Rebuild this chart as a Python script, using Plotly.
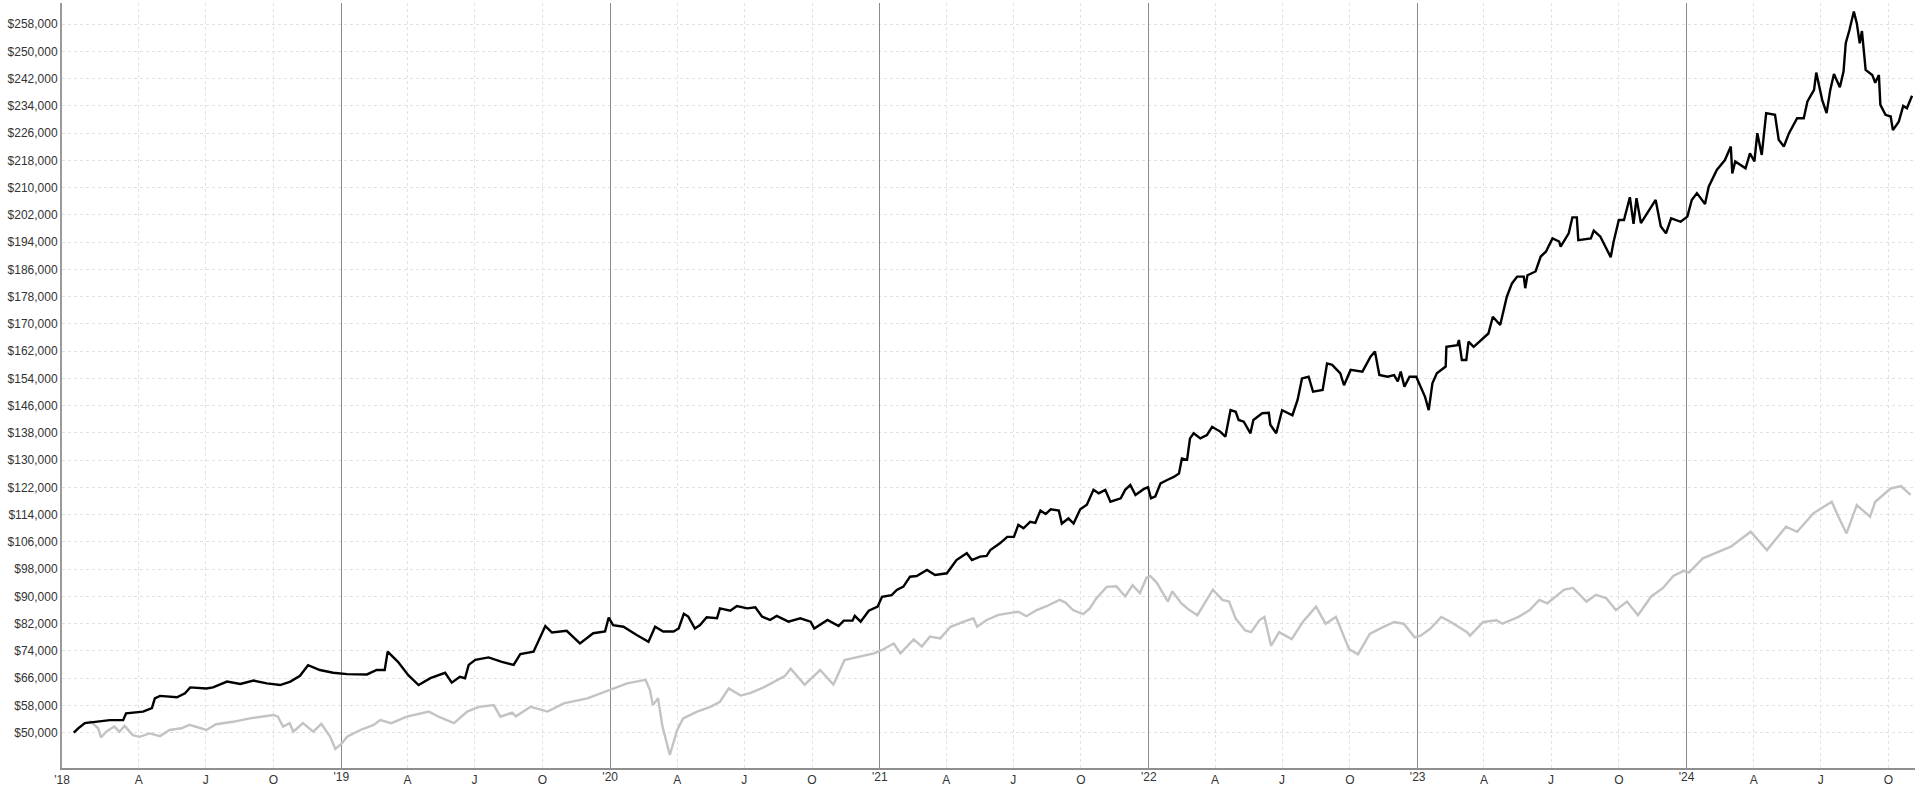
import plotly.graph_objects as go

# ---------------- data (values in thousands of dollars) ----------------
portfolio_dates = [
    "2018-01-03","2018-01-09","2018-01-18","2018-02-01","2018-02-21","2018-03-11","2018-03-15","2018-04-07",
    "2018-04-19","2018-04-23","2018-04-30","2018-05-23","2018-06-03","2018-06-10","2018-07-02","2018-07-11",
    "2018-07-30","2018-08-17","2018-09-04","2018-09-22","2018-10-10","2018-10-24","2018-11-06","2018-11-17",
    "2018-12-03","2018-12-21","2019-01-09","2019-02-05","2019-02-18","2019-03-01","2019-03-05","2019-03-19",
    "2019-04-02","2019-04-16","2019-05-02","2019-05-22","2019-05-31","2019-06-11","2019-06-18","2019-06-23",
    "2019-07-02","2019-07-20","2019-08-07","2019-08-23","2019-09-01","2019-09-19","2019-09-27","2019-10-05",
    "2019-10-14","2019-11-03","2019-11-21","2019-12-09","2019-12-25","2019-12-30","2020-01-05","2020-01-19",
    "2020-02-06","2020-02-22","2020-03-02","2020-03-13","2020-03-27","2020-04-03","2020-04-10","2020-04-16",
    "2020-04-25","2020-05-02","2020-05-11","2020-05-25","2020-05-29","2020-06-12","2020-06-21","2020-07-05",
    "2020-07-16","2020-07-25","2020-08-05","2020-08-14","2020-08-30","2020-09-15","2020-09-29","2020-10-04",
    "2020-10-22","2020-11-06","2020-11-13","2020-11-25","2020-11-28","2020-12-06","2020-12-17","2020-12-29",
    "2021-01-04","2021-01-17","2021-01-24","2021-02-02","2021-02-11","2021-02-20","2021-03-06","2021-03-17",
    "2021-04-02","2021-04-15","2021-04-29","2021-05-06","2021-05-17","2021-05-26","2021-05-31","2021-06-13",
    "2021-06-23","2021-07-02","2021-07-08","2021-07-15","2021-07-24","2021-07-31","2021-08-07","2021-08-14",
    "2021-08-21","2021-09-01","2021-09-05","2021-09-14","2021-09-21","2021-09-30","2021-10-09","2021-10-18",
    "2021-10-25","2021-11-03","2021-11-10","2021-11-24","2021-11-30","2021-12-07","2021-12-14","2021-12-25",
    "2021-12-31","2022-01-04","2022-01-10","2022-01-17","2022-01-26","2022-02-04","2022-02-11","2022-02-15",
    "2022-02-22","2022-02-26","2022-03-03","2022-03-12","2022-03-21","2022-03-28","2022-04-08","2022-04-15",
    "2022-04-22","2022-04-29","2022-05-03","2022-05-10","2022-05-19","2022-05-23","2022-06-04","2022-06-13",
    "2022-06-15","2022-06-23","2022-07-01","2022-07-15","2022-07-22","2022-07-28","2022-08-06","2022-08-12",
    "2022-08-25","2022-08-31","2022-09-07","2022-09-18","2022-09-23","2022-10-02","2022-10-18","2022-10-29",
    "2022-11-04","2022-11-10","2022-11-21","2022-11-30","2022-12-05","2022-12-09","2022-12-14","2022-12-21",
    "2022-12-30","2023-01-05","2023-01-11","2023-01-16","2023-01-21","2023-01-27","2023-02-08","2023-02-09",
    "2023-02-24","2023-02-26","2023-03-02","2023-03-08","2023-03-11","2023-03-18","2023-03-29","2023-04-07",
    "2023-04-13","2023-04-23","2023-05-02","2023-05-09","2023-05-16","2023-05-25","2023-05-27","2023-05-30",
    "2023-06-10","2023-06-17","2023-06-24","2023-07-03","2023-07-12","2023-07-14","2023-07-25","2023-07-30",
    "2023-08-05","2023-08-07","2023-08-24","2023-08-28","2023-09-06","2023-09-13","2023-09-20","2023-09-24",
    "2023-10-01","2023-10-08","2023-10-16","2023-10-21","2023-10-25","2023-10-31","2023-11-09","2023-11-20",
    "2023-11-27","2023-12-04","2023-12-11","2023-12-24","2024-01-02","2024-01-08","2024-01-15","2024-01-26",
    "2024-01-31","2024-02-11","2024-02-22","2024-03-01","2024-03-03","2024-03-07","2024-03-21","2024-03-27",
    "2024-04-02","2024-04-06","2024-04-12","2024-04-18","2024-04-30","2024-05-05","2024-05-12","2024-05-19",
    "2024-05-30","2024-06-08","2024-06-13","2024-06-22","2024-06-25","2024-07-03","2024-07-09","2024-07-14",
    "2024-07-19","2024-07-27","2024-08-01","2024-08-04","2024-08-09","2024-08-15","2024-08-19","2024-08-23",
    "2024-08-26","2024-08-31","2024-09-09","2024-09-13","2024-09-18","2024-09-20","2024-09-27","2024-10-04",
    "2024-10-07","2024-10-15","2024-10-21","2024-10-26","2024-11-02",
]
portfolio_k = [
    50.0, 51.3, 52.8, 53.2, 53.7, 53.7, 55.7, 56.2,
    57.2, 60.1, 60.8, 60.4, 61.6, 63.3, 63.0, 63.3,
    65.0, 64.3, 65.3, 64.5, 64.0, 65.0, 66.7, 69.8,
    68.4, 67.6, 67.2, 67.1, 68.4, 68.4, 73.8, 70.8,
    66.9, 64.0, 66.0, 67.6, 64.7, 66.4, 66.0, 69.9,
    71.4, 72.1, 70.8, 69.9, 73.1, 73.8, 77.7, 81.3,
    79.4, 79.9, 76.2, 79.2, 79.7, 83.8, 81.6, 81.1,
    78.7, 76.7, 81.1, 79.7, 79.7, 80.6, 84.9, 84.1,
    80.6, 81.6, 83.9, 83.6, 86.5, 85.8, 87.2, 86.5,
    86.8, 84.1, 83.1, 84.3, 82.6, 83.6, 82.6, 80.6,
    83.1, 81.3, 82.9, 82.9, 84.3, 82.6, 85.8, 87.0,
    89.9, 90.4, 91.9, 92.9, 95.8, 96.0, 97.8, 96.3,
    96.8, 100.7, 102.7, 100.7, 101.7, 101.9, 103.6, 105.6,
    107.5, 107.5, 111.0, 110.0, 111.9, 111.6, 115.2, 114.2,
    115.6, 115.2, 111.4, 112.9, 111.4, 115.6, 116.9, 121.3,
    120.3, 121.3, 117.8, 118.8, 121.3, 122.7, 119.8, 121.5,
    122.1, 118.8, 119.4, 123.2, 124.2, 125.1, 126.1, 130.5,
    130.1, 136.4, 137.9, 136.4, 137.4, 139.8, 138.4, 136.9,
    144.7, 144.2, 141.8, 141.3, 137.9, 141.8, 143.8, 143.9,
    140.4, 137.9, 144.7, 143.2, 147.7, 154.0, 154.5, 150.1,
    150.6, 158.4, 158.0, 155.5, 152.0, 156.5, 156.0, 160.4,
    161.9, 155.0, 154.5, 155.0, 153.1, 156.0, 151.6, 154.5,
    154.5, 151.6, 148.6, 144.7, 152.6, 155.5, 157.5, 163.3,
    163.8, 165.3, 159.4, 159.4, 164.8, 163.3, 165.3, 167.2,
    172.1, 169.7, 178.0, 181.9, 183.9, 183.9, 180.5, 184.3,
    185.4, 189.8, 191.2, 195.1, 194.2, 192.7, 196.6, 201.3,
    201.3, 194.6, 195.1, 197.4, 195.6, 192.7, 189.6, 194.2,
    200.5, 200.5, 207.2, 199.4, 206.9, 199.6, 202.5, 206.4,
    198.6, 196.6, 201.0, 200.0, 201.5, 206.4, 208.4, 205.2,
    210.3, 215.2, 218.1, 222.1, 214.2, 217.7, 215.7, 220.1,
    217.7, 226.0, 219.6, 231.9, 231.4, 224.1, 222.1, 226.0,
    230.4, 230.4, 235.3, 238.7, 243.8, 235.8, 231.9, 238.7,
    243.4, 239.5, 244.1, 252.4, 256.3, 261.7, 258.3, 252.4,
    256.0, 244.6, 243.1, 240.8, 243.1, 234.3, 231.4, 230.9,
    226.9, 229.4, 234.0, 233.3, 237.0,
]

benchmark_dates = [
    "2018-01-03","2018-01-09","2018-01-18","2018-01-26","2018-02-05","2018-02-09","2018-02-16","2018-02-27",
    "2018-03-06","2018-03-13","2018-03-24","2018-04-02","2018-04-16","2018-04-30","2018-05-13","2018-05-29",
    "2018-06-09","2018-06-23","2018-07-02","2018-07-15","2018-08-07","2018-08-30","2018-09-17","2018-10-01",
    "2018-10-07","2018-10-14","2018-10-23","2018-10-28","2018-11-10","2018-11-24","2018-12-05","2018-12-17",
    "2018-12-24","2019-01-02","2019-01-09","2019-01-27","2019-02-14","2019-02-23","2019-03-10","2019-03-31",
    "2019-04-30","2019-05-13","2019-06-03","2019-06-21","2019-07-07","2019-07-27","2019-08-05","2019-08-21",
    "2019-08-26","2019-09-15","2019-10-08","2019-10-30","2019-12-01","2020-01-01","2020-01-24","2020-02-18",
    "2020-02-24","2020-02-28","2020-03-06","2020-03-12","2020-03-22","2020-04-01","2020-04-09","2020-04-28",
    "2020-05-16","2020-05-29","2020-06-10","2020-06-26","2020-07-09","2020-07-28","2020-08-25","2020-09-02",
    "2020-09-21","2020-10-12","2020-10-30","2020-11-14","2020-12-06","2020-12-24","2021-01-04","2021-01-11",
    "2021-01-20","2021-01-29","2021-02-16","2021-02-27","2021-03-10","2021-03-24","2021-04-07","2021-04-25",
    "2021-05-08","2021-05-13","2021-05-26","2021-06-11","2021-07-08","2021-07-19","2021-08-02","2021-08-16",
    "2021-09-02","2021-09-10","2021-09-20","2021-10-04","2021-10-13","2021-10-22","2021-11-05","2021-11-18",
    "2021-11-30","2021-12-10","2021-12-20","2021-12-29","2022-01-03","2022-01-12","2022-01-27","2022-02-02",
    "2022-02-14","2022-02-24","2022-03-08","2022-03-29","2022-04-11","2022-04-20","2022-04-29","2022-05-12",
    "2022-05-20","2022-05-31","2022-06-07","2022-06-16","2022-06-27","2022-07-14","2022-07-29","2022-08-16",
    "2022-08-29","2022-09-12","2022-09-30","2022-10-12","2022-10-28","2022-11-10","2022-11-30","2022-12-13",
    "2022-12-28","2023-01-05","2023-01-18","2023-02-02","2023-02-15","2023-03-09","2023-03-13","2023-03-31",
    "2023-04-18","2023-04-26","2023-05-18","2023-06-02","2023-06-15","2023-06-26","2023-07-19","2023-07-31",
    "2023-08-18","2023-08-31","2023-09-14","2023-09-27","2023-10-12","2023-10-27","2023-11-14","2023-11-30",
    "2023-12-14","2023-12-28","2024-01-04","2024-01-23","2024-02-12","2024-03-01","2024-03-28","2024-04-19",
    "2024-05-15","2024-05-30","2024-06-21","2024-07-16","2024-07-24","2024-08-05","2024-08-19","2024-09-06",
    "2024-09-13","2024-10-04","2024-10-18","2024-10-31",
]
benchmark_k = [
    50.0, 51.3, 52.8, 53.3, 51.3, 48.6, 50.3, 51.8,
    50.3, 52.0, 49.3, 48.8, 49.8, 49.0, 50.8, 51.3,
    52.3, 51.5, 50.8, 52.5, 53.2, 54.2, 54.7, 55.2,
    54.7, 51.8, 52.8, 50.3, 52.8, 50.3, 52.6, 48.8,
    45.2, 46.9, 48.8, 50.8, 52.3, 53.7, 52.8, 54.7,
    56.2, 54.7, 52.8, 56.2, 57.6, 58.1, 54.7, 55.9,
    54.8, 57.6, 56.2, 58.6, 60.1, 62.5, 64.5, 65.5,
    62.5, 58.1, 60.1, 51.8, 43.5, 50.8, 54.2, 56.2,
    57.6, 59.1, 63.0, 60.9, 61.6, 63.4, 66.6, 68.8,
    64.1, 68.4, 64.1, 71.3, 72.3, 73.3, 74.3, 75.2,
    76.2, 73.3, 77.4, 75.3, 78.2, 77.7, 81.1, 82.6,
    83.6, 81.1, 83.1, 84.6, 85.5, 84.2, 86.0, 87.2,
    89.0, 88.2, 86.0, 84.8, 86.5, 89.5, 92.8, 93.0,
    90.0, 93.3, 91.0, 95.5, 96.0, 94.0, 88.5, 91.5,
    88.0, 86.2, 84.5, 92.0, 89.0, 88.5, 83.5, 80.0,
    79.5, 83.0, 84.0, 75.5, 79.5, 77.5, 82.5, 87.0,
    82.0, 84.0, 74.5, 73.0, 79.0, 80.5, 82.5, 82.0,
    78.0, 78.5, 80.5, 84.0, 82.5, 79.5, 78.5, 82.5,
    83.0, 82.0, 84.0, 86.0, 89.0, 88.0, 92.0, 92.5,
    88.5, 90.5, 89.5, 86.0, 88.5, 84.5, 90.0, 92.5,
    96.0, 97.5, 97.0, 101.2, 103.0, 104.6, 109.0, 103.6,
    110.5, 109.0, 114.4, 117.8, 113.9, 108.5, 116.8, 113.4,
    117.8, 121.7, 122.4, 119.8,
]

assert len(portfolio_dates) == len(portfolio_k)
assert len(benchmark_dates) == len(benchmark_k)

# axis ticks
tick_years = [2018, 2019, 2020, 2021, 2022, 2023, 2024]
quarter_months = ["04", "07", "10"]
quarter_letters = ["A", "J", "O"]
y_ticks = list(range(50000, 258001, 8000))
y_ticktext = [f"${v:,}" for v in y_ticks]
x_range = ["2017-12-18", "2024-11-06"]
y_range = [39640, 264220]

# quarter ticks (dotted grid) on the main x axis, plus the first-year label at the axis start
q_vals, q_text = [x_range[0]], ["'" + str(tick_years[0])[2:]]
for yr in tick_years:
    for m, l in zip(quarter_months, quarter_letters):
        q_vals.append(f"{yr}-{m}-01")
        q_text.append(l)
# year ticks (solid grid) on an overlaid x axis with the same range
y_vals = [f"{yr}-01-01" for yr in tick_years[1:]]
y_text = ["'" + str(yr)[2:] for yr in tick_years[1:]]

fig = go.Figure()
# benchmark on the base x axis (drawn first), portfolio on the overlaid one (drawn on top)
fig.add_trace(go.Scatter(
    x=benchmark_dates, y=[v * 1000 for v in benchmark_k], mode="lines", xaxis="x",
    line=dict(color="#c3c3c3", width=2.4), hoverinfo="skip", showlegend=False))
fig.add_trace(go.Scatter(
    x=portfolio_dates, y=[v * 1000 for v in portfolio_k], mode="lines", xaxis="x2",
    line=dict(color="#000000", width=2.4), hoverinfo="skip", showlegend=False))

font = dict(family="Liberation Sans, Arial, sans-serif", size=12, color="#333333")
fig.update_layout(
    width=1917, height=796,
    margin=dict(l=62, r=2, t=3, b=28),
    paper_bgcolor="white", plot_bgcolor="white",
    font=font, showlegend=False,
    xaxis=dict(type="date", range=x_range, tickmode="array", tickvals=q_vals, ticktext=q_text,
               showgrid=True, gridcolor="#e2e2e2", griddash="dot", gridwidth=1,
               showline=True, linecolor="#8f8f8f", linewidth=2, ticks="", zeroline=False,
               tickfont=font, fixedrange=True),
    xaxis2=dict(type="date", range=x_range, overlaying="x", side="bottom", anchor="y",
                tickmode="array", tickvals=y_vals, ticktext=y_text,
                showgrid=True, gridcolor="#8a8a8a", gridwidth=1,
                showline=False, ticks="", zeroline=False, tickfont=font, fixedrange=True),
    yaxis=dict(range=y_range, tickmode="array", tickvals=y_ticks, ticktext=y_ticktext,
               showgrid=True, gridcolor="#e2e2e2", griddash="dot", gridwidth=1,
               showline=True, linecolor="#9a9a9a", linewidth=2, ticks="", zeroline=False,
               tickfont=font, fixedrange=True),
)

fig.write_html("out.html", config={"displayModeBar": False},
               post_script="document.body.style.margin='0';document.body.style.overflow='hidden';")
